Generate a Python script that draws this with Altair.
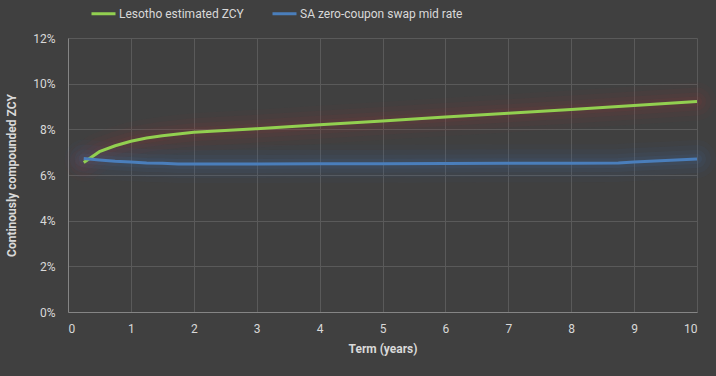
import altair as alt
import pandas as pd

series_names = ["Lesotho estimated ZCY", "SA zero-coupon swap mid rate"]

lesotho_term = [0.25, 0.5, 0.75, 1, 1.25, 1.5, 1.75, 2, 3, 4, 5, 6, 7, 8, 9, 10]
lesotho_zcy = [6.55, 7.02, 7.28, 7.48, 7.62, 7.72, 7.80, 7.87, 8.03, 8.20, 8.37, 8.54, 8.70, 8.87, 9.04, 9.22]

sa_term = [0.25, 0.5, 0.75, 1, 1.25, 1.5, 1.75, 2, 3, 4, 5, 6, 7, 8, 8.75, 9, 9.5, 10]
sa_zcy = [6.72, 6.66, 6.60, 6.57, 6.53, 6.51, 6.48, 6.48, 6.48, 6.49, 6.49, 6.50, 6.51, 6.52, 6.53, 6.57, 6.63, 6.70]

rows = []
for t, v in zip(lesotho_term, lesotho_zcy):
    rows.append({"term": t, "rate": v / 100, "series": series_names[0]})
for t, v in zip(sa_term, sa_zcy):
    rows.append({"term": t, "rate": v / 100, "series": series_names[1]})
df = pd.DataFrame(rows)

FONT = "Roboto"
TXT = "#d9d9d9"

x = alt.X("term:Q", scale=alt.Scale(domain=[0, 10], nice=False),
          axis=alt.Axis(values=list(range(0, 11)), title="Term (years)", labelPadding=11,
                        titlePadding=9))
y = alt.Y("rate:Q", scale=alt.Scale(domain=[0, 0.12], nice=False),
          axis=alt.Axis(values=[0, 0.02, 0.04, 0.06, 0.08, 0.1, 0.12], format=".0%",
                        title="Continously compounded ZCY", labelPadding=13, titlePadding=14))

glow_cols = ["#8c3a3a", "#3f6aa0"]

glows = []
for name, gc in zip(series_names, glow_cols):
    for w, op in [(38, 0.05), (28, 0.07), (18, 0.09), (10, 0.12)]:
        glows.append(
            alt.Chart(df).transform_filter(alt.datum.series == name)
            .mark_line(strokeWidth=w, opacity=op, color=gc, strokeCap="round", strokeJoin="round")
            .encode(x=x, y=y)
        )

main = alt.Chart(df).mark_line(strokeWidth=3).encode(
    x=x, y=y,
    color=alt.Color("series:N", scale=alt.Scale(domain=series_names, range=["#92d050", "#4a7ebb"]),
                    sort=series_names,
                    legend=alt.Legend(title=None, orient="none", direction="horizontal",
                                      legendX=22, legendY=-38, symbolType="stroke",
                                      symbolSize=576, symbolStrokeWidth=3,
                                      columnPadding=22, labelOffset=2, labelLimit=0,
                                      labelFontSize=12, labelColor=TXT, labelFont=FONT)),
)

chart = alt.layer(*glows, main).properties(
    width=629, height=274,
    background="#404040",
    padding={"left": 68, "top": 38, "right": 19, "bottom": 64},
    autosize=alt.AutoSizeParams(type="none"),
).configure_view(stroke=None).configure_axis(
    labelFont=FONT, titleFont=FONT, labelColor=TXT, titleColor=TXT,
    labelFontSize=12, titleFontSize=12, titleFontWeight="bold",
    gridColor="#5a5a5a", gridWidth=1, domainColor="#858585", domainWidth=1,
    ticks=False,
)

chart.save("out.html", embed_options={"renderer": "svg", "actions": False})
